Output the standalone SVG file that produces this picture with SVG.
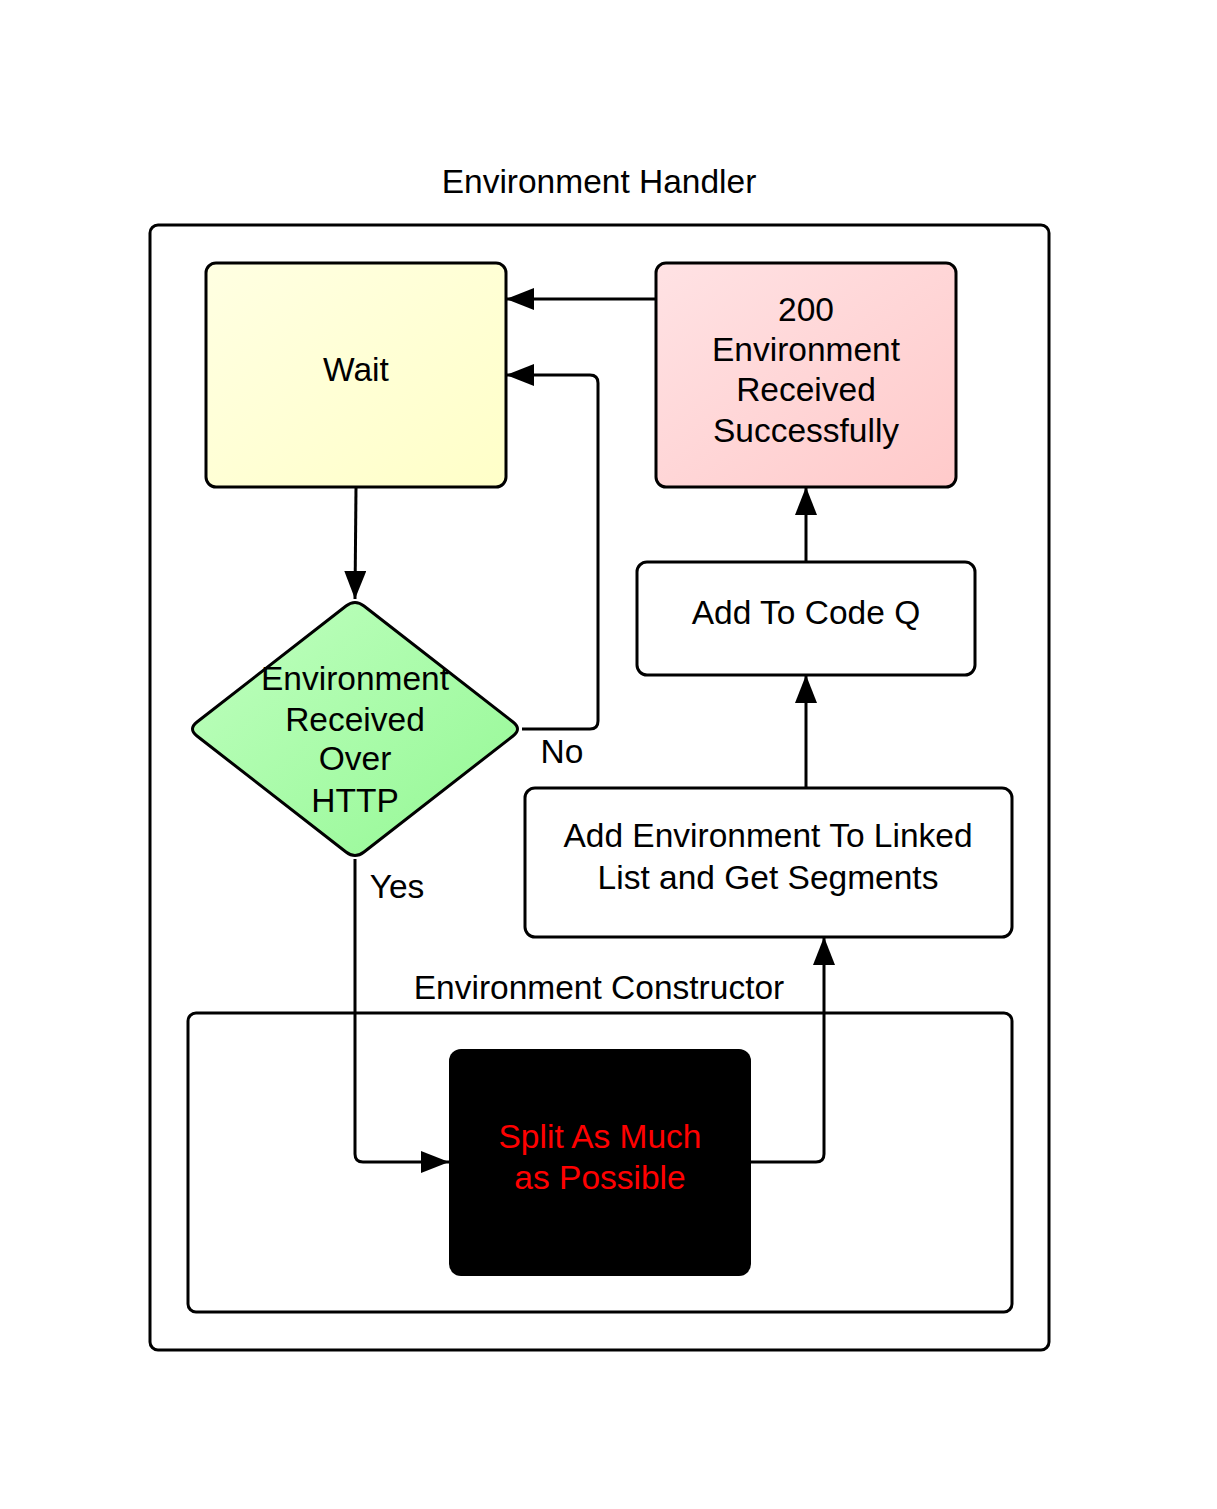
<svg xmlns="http://www.w3.org/2000/svg" width="1217" height="1509" viewBox="0 0 1217 1509">
<style>
text{font-family:"Liberation Sans",Arial,sans-serif;font-size:33.5px;fill:#000;text-anchor:middle}
.box{stroke:#000;stroke-width:3}
.line{fill:none;stroke:#000;stroke-width:3;stroke-linejoin:round}
</style>
<defs>
<linearGradient id="gy" x1="0" y1="0" x2="1" y2="1"><stop offset="0" stop-color="#ffffe2"/><stop offset="1" stop-color="#ffffc8"/></linearGradient>
<linearGradient id="gp" x1="0" y1="0" x2="1" y2="1"><stop offset="0" stop-color="#ffe2e4"/><stop offset="1" stop-color="#ffcaca"/></linearGradient>
<linearGradient id="gg" x1="0" y1="0" x2="1" y2="1"><stop offset="0" stop-color="#c0ffc0"/><stop offset="1" stop-color="#94f894"/></linearGradient>
<marker id="ah" markerWidth="28" markerHeight="22" refX="28" refY="11" orient="auto" markerUnits="userSpaceOnUse"><path d="M0,0 L28,11 L0,22 Z" fill="#000"/></marker>
</defs>
<g id="container-handler">
<rect x="150" y="225" width="899" height="1125" rx="8" fill="#fff" class="box"/>
<text x="599" y="193">Environment Handler</text>
</g>
<g id="container-constructor">
<rect x="188" y="1013" width="824" height="299" rx="8" fill="none" class="box"/>
<text x="599" y="999">Environment Constructor</text>
</g>
<g id="node-wait">
<rect x="206" y="263" width="300" height="224" rx="10" fill="url(#gy)" class="box"/>
<text x="356" y="381">Wait</text>
</g>
<g id="node-200">
<rect x="656" y="263" width="300" height="224" rx="10" fill="url(#gp)" class="box"/>
<text x="806" y="321">200</text>
<text x="806" y="361">Environment</text>
<text x="806" y="401">Received</text>
<text x="806" y="442">Successfully</text>
</g>
<g id="node-codeq">
<rect x="637" y="562" width="338" height="113" rx="10" fill="#fff" class="box"/>
<text x="806" y="624">Add To Code Q</text>
</g>
<g id="node-linked">
<rect x="525" y="788" width="487" height="149" rx="10" fill="#fff" class="box"/>
<text x="768" y="847">Add Environment To Linked</text>
<text x="768" y="889">List and Get Segments</text>
</g>
<g id="node-decision">
<path d="M346,606 Q355,599 364,606 L513,722 Q522,729 513,736 L364,852 Q355,859 346,852 L197,736 Q188,729 197,722 Z" fill="url(#gg)" class="box"/>
<text x="355" y="690">Environment</text>
<text x="355" y="731">Received</text>
<text x="355" y="770">Over</text>
<text x="355" y="812">HTTP</text>
</g>
<g id="node-split">
<rect x="449" y="1049" width="302" height="227" rx="12" fill="#000"/>
<text x="600" y="1148" style="fill:#ff0000">Split As Much</text>
<text x="600" y="1189" style="fill:#ff0000">as Possible</text>
</g>
<g id="connectors">
<path class="line" d="M656,299 L506,299" marker-end="url(#ah)"/>
<path class="line" d="M522,729 L590,729 Q598,729 598,721 L598,383 Q598,375 590,375 L506,375" marker-end="url(#ah)"/>
<path class="line" d="M356,487 L355,599" marker-end="url(#ah)"/>
<path class="line" d="M355,859 L355,1154 Q355,1162 363,1162 L449,1162" marker-end="url(#ah)"/>
<path class="line" d="M751,1162 L816,1162 Q824,1162 824,1154 L824,937" marker-end="url(#ah)"/>
<path class="line" d="M806,788 L806,675" marker-end="url(#ah)"/>
<path class="line" d="M806,562 L806,487" marker-end="url(#ah)"/>
<text x="562" y="763">No</text>
<text x="397" y="898">Yes</text>
</g>
</svg>
